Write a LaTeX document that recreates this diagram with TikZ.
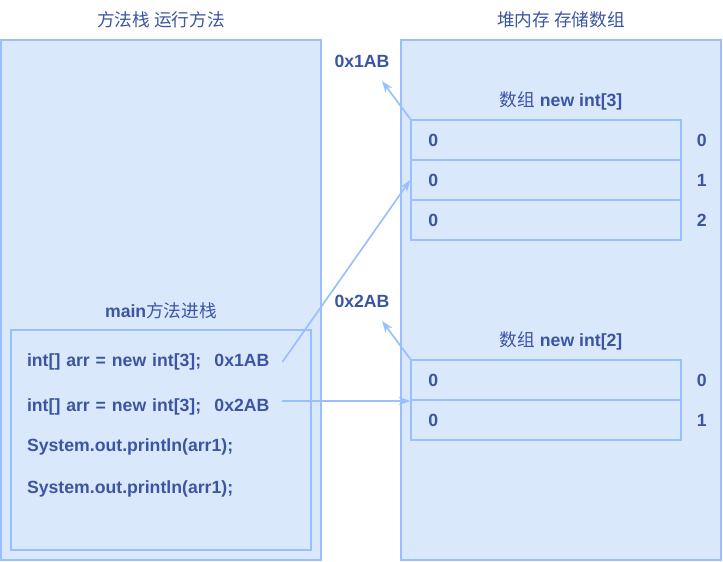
\documentclass[tikz,border=0pt]{standalone}
\usepackage{fontspec}
\setmainfont{Liberation Sans}
\newfontfamily\cjk{Noto Sans CJK SC}
\usetikzlibrary{arrows.meta}
\definecolor{lineBlue}{HTML}{99BFFF}
\definecolor{fillBlue}{HTML}{DAE8FC}
\definecolor{textBlue}{HTML}{3B55A3}

\begin{document}
\begin{tikzpicture}
[x=0.6pt,y=-0.6pt,
  boxDecorate/.style={draw=lineBlue,fill=fillBlue,line width=1.2pt},
  cellDecorate/.style={shape=rectangle,draw=lineBlue,fill=fillBlue,line width=1.2pt,
    minimum width=162pt,minimum height=24pt,inner sep=0pt},
  textDecorate/.style={text=textBlue,font=\fontsize{10.6}{12}\selectfont\bfseries,inner sep=0pt},
  codeDecorate/.style={textDecorate,anchor=west,text width=153pt,align=left},
  arrowDecorate/.style={-{Stealth[length=7pt,width=5pt]},draw=lineBlue,line width=1pt}]
\useasboundingbox (0,0) rectangle (723,562);
%% stack and heap areas
\draw[boxDecorate] (1,40) rectangle (321,560);
\draw[boxDecorate] (401,40) rectangle (721,560);
\draw[boxDecorate] (11,330) rectangle (311,550);
%% titles
\node (stackTitle) at (161,20) [textDecorate] {\cjk\mdseries 方法栈 运行方法};
\node (heapTitle) at (561,20) [textDecorate] {\cjk\mdseries 堆内存 存储数组};
\node (mainTitle) at (161,311) [textDecorate] {main{\cjk\mdseries 方法进栈}};
\node (arrTitle1) at (561,101) [textDecorate] {{\cjk\mdseries 数组} new int[3]};
\node (arrTitle2) at (561,341) [textDecorate] {{\cjk\mdseries 数组} new int[2]};
\node (addr1) at (362,61) [textDecorate] {0x1AB};
\node (addr2) at (362,301) [textDecorate] {0x2AB};
%% array cells
\foreach \row/\y in {0/140, 1/180, 2/220}
{
  \node (a1c\row) at (546.3,\y) [cellDecorate] {};
  \node (a1v\row) at (433.3,\y) [textDecorate] {0};
  \node (a1i\row) at (701.7,\y) [textDecorate] {\row};
}
\foreach \row/\y in {0/380, 1/420}
{
  \node (a2c\row) at (546.3,\y) [cellDecorate] {};
  \node (a2v\row) at (433.3,\y) [textDecorate] {0};
  \node (a2i\row) at (701.7,\y) [textDecorate] {\row};
}
%% code lines
\foreach \n/\y/\code in {
  1/362/{int[] arr = new int[3];\hspace{0.75em}0x1AB},
  2/407/{int[] arr = new int[3];\hspace{0.75em}0x2AB},
  3/447/{System.out.println(arr1);},
  4/489/{System.out.println(arr1);}}
{
  \node (code\n) at (26.7,\y) [codeDecorate] {\code};
}
%% references
\coordinate (tip1) at (382,81);
\coordinate (tip2) at (382,321);
\draw[arrowDecorate] (code1.east) -- (a1c1.west);
\draw[arrowDecorate] (a2c0.south west -| code2.east) -- (a2c0.south west);
\draw[arrowDecorate] (a1c0.north west) -- (tip1);
\draw[arrowDecorate] (a2c0.north west) -- (tip2);
\end{tikzpicture}
\end{document}
